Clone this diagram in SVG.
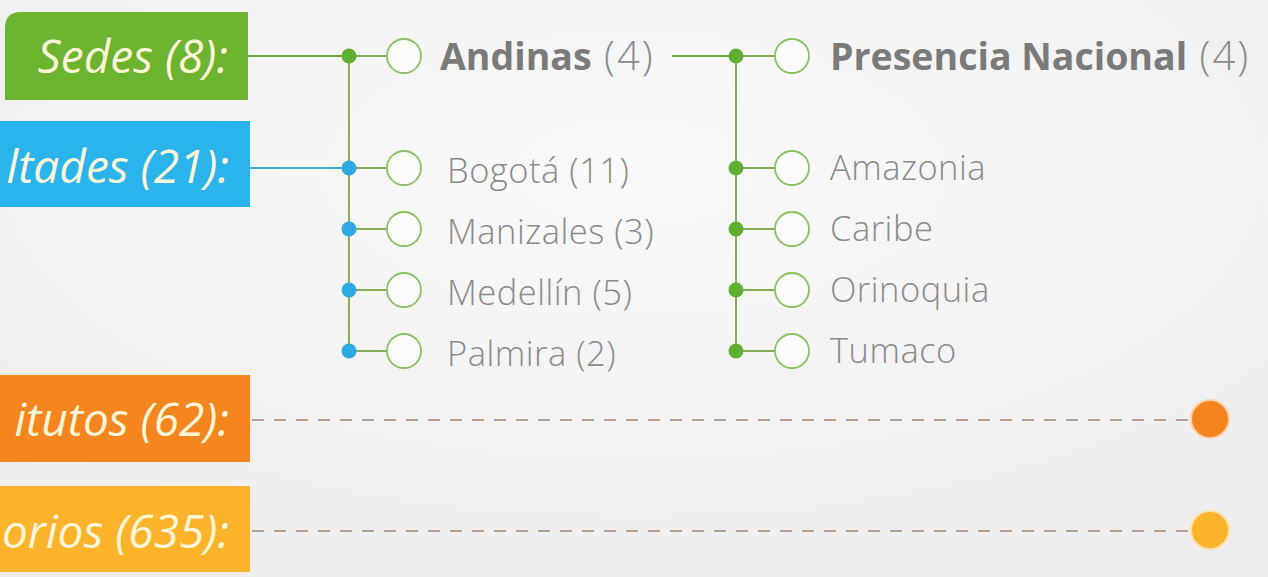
<svg xmlns="http://www.w3.org/2000/svg" width="1268" height="577" viewBox="0 0 1268 577">
<defs>
<radialGradient id="bg" cx="0.5" cy="0.3" r="0.8">
<stop offset="0" stop-color="#fafafa"/>
<stop offset="1" stop-color="#ececec"/>
</radialGradient>
</defs>
<style>
.lbl{font-family:"Open Sans","Noto Sans",sans-serif;font-style:italic;font-size:46px;fill:#fdf6d8;text-anchor:end}
.item{font-family:"Open Sans","Noto Sans",sans-serif;font-weight:300;font-size:34.5px;letter-spacing:0.5px;fill:#8a8a8a}
.head{font-family:"Open Sans","Noto Sans",sans-serif;font-size:37.5px;fill:#8a8a8a}
.b{font-weight:700;fill:#7a7a7a}
.lt{font-weight:300;font-size:40px;letter-spacing:2px}
.ring{fill:#fbfbfb;stroke:#8cc063;stroke-width:1.8}
.stem{stroke:#83ad58;stroke-width:2;fill:none}
.gdot{fill:#5fb030}
.bdot{fill:#2fa9e2}
.dash{stroke:#b9a088;stroke-width:2;stroke-dasharray:12 10;fill:none}
</style>
<rect width="1268" height="577" fill="url(#bg)"/>

<g id="connectors">
<line x1="248" y1="56" x2="349" y2="56" stroke="#6aab3c" stroke-width="2"/>
<line x1="250" y1="168" x2="349" y2="168" stroke="#3aaee0" stroke-width="2"/>
<line class="stem" x1="349" y1="56" x2="349" y2="351"/>
<line class="stem" x1="349" y1="56" x2="387" y2="56"/>
<line class="stem" x1="349" y1="168" x2="387" y2="168"/>
<line class="stem" x1="349" y1="229" x2="387" y2="229"/>
<line class="stem" x1="349" y1="290" x2="387" y2="290"/>
<line class="stem" x1="349" y1="351" x2="387" y2="351"/>
<line x1="672" y1="56" x2="736" y2="56" stroke="#6aab3c" stroke-width="2"/>
<line class="stem" x1="736" y1="56" x2="736" y2="352"/>
<line class="stem" x1="736" y1="56" x2="775" y2="56"/>
<line class="stem" x1="736" y1="168" x2="775" y2="168"/>
<line class="stem" x1="736" y1="229" x2="775" y2="229"/>
<line class="stem" x1="736" y1="290" x2="775" y2="290"/>
<line class="stem" x1="736" y1="351" x2="775" y2="351"/>
<line class="dash" x1="252" y1="420" x2="1190" y2="420"/>
<line class="dash" x1="252" y1="531" x2="1190" y2="531"/>
<circle class="gdot" cx="349" cy="56" r="7.5"/>
<circle class="bdot" cx="349" cy="168" r="7.5"/>
<circle class="bdot" cx="349" cy="229" r="7.5"/>
<circle class="bdot" cx="349" cy="290" r="7.5"/>
<circle class="bdot" cx="349" cy="351" r="7.5"/>
<circle class="gdot" cx="736" cy="56" r="7.5"/>
<circle class="gdot" cx="736" cy="168" r="7.5"/>
<circle class="gdot" cx="736" cy="229" r="7.5"/>
<circle class="gdot" cx="736" cy="290" r="7.5"/>
<circle class="gdot" cx="736" cy="351" r="7.5"/>
</g>

<g id="sedes">
<path d="M5 100 V28 Q5 12 21 12 H248 V100 Z" fill="#6cb32f"/>
<text class="lbl" x="228" y="73">Sedes (8):</text>
</g>
<g id="facultades">
<rect x="0" y="121" width="250" height="86" fill="#2bb3eb"/>
<text class="lbl" x="229" y="183">ltades (21):</text>
</g>
<g id="institutos">
<rect x="0" y="375" width="250" height="87" fill="#f5861f"/>
<text class="lbl" x="229" y="436">itutos (62):</text>
</g>
<g id="laboratorios">
<rect x="0" y="486" width="250" height="86" fill="#fbb32c"/>
<text class="lbl" x="229" y="548">orios (635):</text>
</g>

<g id="andinas">
<circle class="ring" cx="404" cy="56" r="17"/>
<text class="head" x="440" y="70"><tspan class="b">Andinas</tspan><tspan class="lt"> (4)</tspan></text>
</g>
<g id="bogota"><circle class="ring" cx="404" cy="168" r="17"/><text class="item" x="447" y="183">Bogotá (11)</text></g>
<g id="manizales"><circle class="ring" cx="404" cy="229" r="17"/><text class="item" x="447" y="244">Manizales (3)</text></g>
<g id="medellin"><circle class="ring" cx="404" cy="290" r="17"/><text class="item" x="447" y="305">Medellín (5)</text></g>
<g id="palmira"><circle class="ring" cx="404" cy="351" r="17"/><text class="item" x="447" y="366">Palmira (2)</text></g>

<g id="presencia">
<circle class="ring" cx="792" cy="56" r="17"/>
<text class="head" x="830" y="70"><tspan class="b">Presencia Nacional</tspan><tspan class="lt"> (4)</tspan></text>
</g>
<g id="amazonia"><circle class="ring" cx="792" cy="168" r="17"/><text class="item" x="830" y="180">Amazonia</text></g>
<g id="caribe"><circle class="ring" cx="792" cy="229" r="17"/><text class="item" x="830" y="241">Caribe</text></g>
<g id="orinoquia"><circle class="ring" cx="792" cy="290" r="17"/><text class="item" x="830" y="302">Orinoquia</text></g>
<g id="tumaco"><circle class="ring" cx="792" cy="351" r="17"/><text class="item" x="830" y="363">Tumaco</text></g>

<g id="end-institutos"><circle cx="1210" cy="419" r="19" fill="#f5841f" stroke="#fbd3a8" stroke-width="2"/></g>
<g id="end-laboratorios"><circle cx="1210" cy="530" r="19" fill="#fbb22b" stroke="#fde0a8" stroke-width="2"/></g>
</svg>
